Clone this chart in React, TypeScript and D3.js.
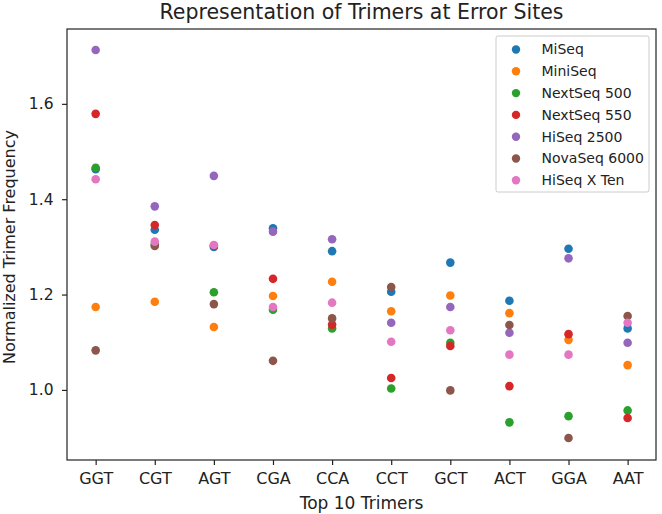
import React, { useEffect, useRef } from "react";
import * as d3 from "d3";

const trimers = ["GGT", "CGT", "AGT", "CGA", "CCA", "CCT", "GCT", "ACT", "GGA", "AAT"];

const miSeq = [1.463, 1.336, 1.3, 1.339, 1.291, 1.206, 1.267, 1.187, 1.296, 1.129];
const miniSeq = [1.174, 1.185, 1.132, 1.197, 1.227, 1.165, 1.198, 1.161, 1.105, 1.052];
const nextSeq500 = [1.466, 1.305, 1.205, 1.168, 1.129, 1.003, 1.099, 0.932, 0.945, 0.957];
const nextSeq550 = [1.579, 1.346, 1.303, 1.233, 1.137, 1.025, 1.092, 1.008, 1.117, 0.941];
const hiSeq2500 = [1.713, 1.385, 1.449, 1.332, 1.316, 1.141, 1.174, 1.12, 1.276, 1.099];
const novaSeq6000 = [1.083, 1.302, 1.18, 1.061, 1.15, 1.216, 0.999, 1.136, 0.899, 1.155];
const hiSeqXTen = [1.442, 1.311, 1.304, 1.174, 1.183, 1.101, 1.125, 1.074, 1.074, 1.141];

const seriesNames = ["MiSeq", "MiniSeq", "NextSeq 500", "NextSeq 550", "HiSeq 2500", "NovaSeq 6000", "HiSeq X Ten"];
const seriesValues = [miSeq, miniSeq, nextSeq500, nextSeq550, hiSeq2500, novaSeq6000, hiSeqXTen];
const colors = ["#1f77b4", "#ff7f0e", "#2ca02c", "#d62728", "#9467bd", "#8c564b", "#e377c2"];
const yTicks = [1.0, 1.2, 1.4, 1.6];

const App = () => {
  const svgRef = useRef<SVGSVGElement>(null);

  useEffect(() => {
    const svg = d3.select(svgRef.current);
    svg.selectAll("*").remove();

    const width = 662;
    const height = 514;
    const margin = { top: 29, right: 6, bottom: 54, left: 67 };
    const font = "DejaVu Sans, sans-serif";
    const ink = "#222";

    const x = d3.scaleLinear().domain([-0.485, 9.48]).range([margin.left, width - margin.right]);
    const y = d3.scaleLinear().domain([0.853, 1.757]).range([height - margin.bottom, margin.top]);

    svg.attr("width", width).attr("height", height);
    svg.append("rect").attr("width", width).attr("height", height).attr("fill", "white");

    const dots = svg.append("g");
    seriesValues.forEach((vals, s) => {
      dots
        .selectAll(`.dot-${s}`)
        .data(vals)
        .join("circle")
        .attr("class", `dot-${s}`)
        .attr("cx", (_d, i) => x(i))
        .attr("cy", (d) => y(d))
        .attr("r", 4.3)
        .attr("fill", colors[s]);
    });

    // frame
    svg
      .append("rect")
      .attr("x", margin.left)
      .attr("y", margin.top)
      .attr("width", width - margin.right - margin.left)
      .attr("height", height - margin.bottom - margin.top)
      .attr("fill", "none")
      .attr("stroke", ink)
      .attr("stroke-width", 1.2);

    const xAxis = svg
      .append("g")
      .attr("transform", `translate(0,${height - margin.bottom})`)
      .call(
        d3.axisBottom(x)
          .tickValues(d3.range(trimers.length))
          .tickFormat((d) => trimers[d as number])
          .tickSizeOuter(0)
          .tickSize(5)
          .tickPadding(8)
      );
    xAxis.select(".domain").remove();
    xAxis.selectAll("text").attr("font-size", 16).attr("font-family", font).attr("fill", ink);
    xAxis.selectAll("line").attr("stroke", ink).attr("stroke-width", 1.2);

    const yAxis = svg
      .append("g")
      .attr("transform", `translate(${margin.left},0)`)
      .call(
        d3.axisLeft(y)
          .tickValues(yTicks)
          .tickFormat(d3.format(".1f"))
          .tickSizeOuter(0)
          .tickSize(5)
          .tickPadding(8.5)
      );
    yAxis.select(".domain").remove();
    yAxis.selectAll("text").attr("font-size", 15.5).attr("font-family", font).attr("fill", ink);
    yAxis.selectAll("line").attr("stroke", ink).attr("stroke-width", 1.2);

    svg
      .append("text")
      .attr("x", (margin.left + width - margin.right) / 2)
      .attr("y", 18.5)
      .attr("text-anchor", "middle")
      .attr("font-size", 20.5)
      .attr("font-family", font)
      .attr("fill", ink)
      .text("Representation of Trimers at Error Sites");

    svg
      .append("text")
      .attr("x", (margin.left + width - margin.right) / 2)
      .attr("y", 509)
      .attr("text-anchor", "middle")
      .attr("font-size", 17)
      .attr("font-family", font)
      .attr("fill", ink)
      .text("Top 10 Trimers");

    svg
      .append("text")
      .attr("transform", `translate(15,247) rotate(-90)`)
      .attr("text-anchor", "middle")
      .attr("font-size", 16)
      .attr("font-family", font)
      .attr("fill", ink)
      .text("Normalized Trimer Frequency");

    // legend
    const legend = svg.append("g").attr("transform", "translate(496,36)");
    legend
      .append("rect")
      .attr("width", 153)
      .attr("height", 156)
      .attr("rx", 2)
      .attr("fill", "white")
      .attr("fill-opacity", 0.8)
      .attr("stroke", "#ccc");
    const items = legend
      .selectAll(".legend-item")
      .data(seriesNames)
      .join("g")
      .attr("class", "legend-item")
      .attr("transform", (_d, i) => `translate(0,${13.5 + i * 21.8})`);
    items.append("circle").attr("cx", 20).attr("r", 4.2).attr("fill", (_d, i) => colors[i]);
    items
      .append("text")
      .attr("x", 45.5)
      .attr("dy", "0.35em")
      .attr("font-size", 14)
      .attr("font-family", font)
      .attr("fill", ink)
      .text((d) => d);
  }, []);

  return <svg ref={svgRef} style={{ position: "absolute", left: 0, top: 0 }}></svg>;
};

export default App;
